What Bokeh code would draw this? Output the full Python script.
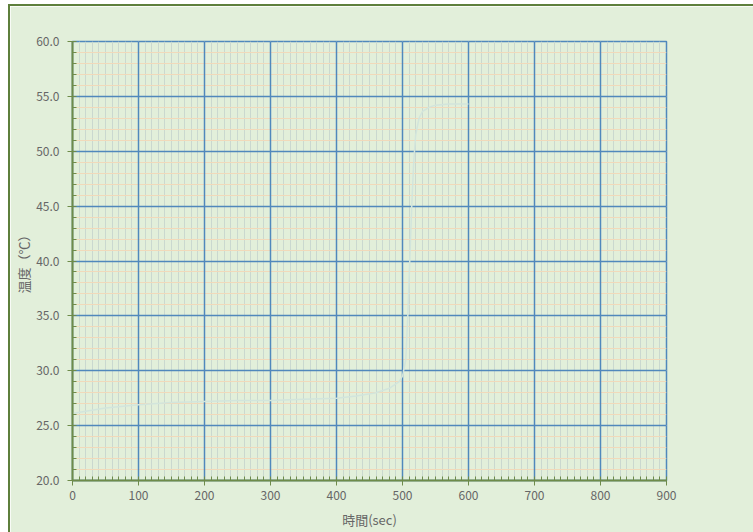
from bokeh.plotting import figure
from bokeh.models import SingleIntervalTicker, NumeralTickFormatter, Range1d, Grid
from bokeh.embed import file_html
from bokeh.resources import INLINE

# Temperature log: elapsed time (sec) and temperature (°C)
time_sec = [0, 20, 50, 100, 150, 200, 250, 300, 350, 400, 430, 460, 480,
            495, 500, 505, 508, 511, 514, 517, 520, 525, 530, 540, 550, 570, 600]
temp_c = [26.1, 26.3, 26.6, 26.9, 27.1, 27.2, 27.3, 27.3, 27.4, 27.5, 27.7,
          28.0, 28.4, 29.0, 29.5, 31.0, 35.0, 40.0, 45.0, 49.0, 51.5, 53.0,
          53.6, 54.0, 54.2, 54.3, 54.3]

x_label = "時間(sec)"
y_label = "温度（℃）"

BG = "#E2EFDA"
AXIS = "#6E8B4A"
TEXT = "#666666"
FONT = "Noto Sans CJK JP"
MAJOR = "#5088BC"

x_ticker = SingleIntervalTicker(interval=100, num_minor_ticks=10)
y_ticker = SingleIntervalTicker(interval=5, num_minor_ticks=5)

p = figure(
    width=743, height=526,
    frame_width=594, frame_height=439,
    min_border_left=62, min_border_right=87,
    min_border_top=35, min_border_bottom=52,
    x_range=Range1d(0, 900), y_range=Range1d(20, 60),
    output_backend="svg", toolbar_location=None,
    background_fill_color=BG, border_fill_color=BG,
)
p.styles = {
    "margin-left": "8px", "margin-top": "4px",
    "border-left": "2px solid #5E7F3C", "border-top": "2px solid #5E7F3C",
}
p.outline_line_color = MAJOR
p.outline_line_width = 1.5

p.xaxis.ticker = x_ticker
p.yaxis.ticker = y_ticker
p.yaxis.formatter = NumeralTickFormatter(format="0.0")

for ax in (p.xaxis[0], p.yaxis[0]):
    ax.axis_line_color = AXIS
    ax.axis_line_width = 2
    ax.major_tick_line_color = AXIS
    ax.minor_tick_line_color = AXIS
    ax.major_tick_out = 5
    ax.major_tick_in = 0
    ax.minor_tick_in = 4
    ax.minor_tick_out = 0
    ax.major_label_text_color = TEXT
    ax.major_label_text_font = FONT
    ax.major_label_text_font_size = "12px"
    ax.axis_label_text_color = TEXT
    ax.axis_label_text_font = FONT
    ax.axis_label_text_font_size = "13px"
    ax.axis_label_text_font_style = "normal"

p.xaxis.axis_label = x_label
p.yaxis.axis_label = y_label
p.xaxis.major_label_standoff = 5
p.yaxis.major_label_standoff = 8
p.xaxis.axis_label_standoff = 7
p.yaxis.axis_label_standoff = 0

# graph-paper grid: fine lines first, bold lines on top
p.xgrid.visible = False
p.ygrid.visible = False
minor_x = Grid(dimension=0, ticker=x_ticker, grid_line_color=None,
               minor_grid_line_color="#CAD8CF", minor_grid_line_width=1,
               level="underlay")
minor_y = Grid(dimension=1, ticker=y_ticker, grid_line_color=None,
               minor_grid_line_color="#F1D9BA", minor_grid_line_width=1,
               level="underlay")
major_x = Grid(dimension=0, ticker=x_ticker, grid_line_color=MAJOR,
               grid_line_width=1.5, level="underlay")
major_y = Grid(dimension=1, ticker=y_ticker, grid_line_color=MAJOR,
               grid_line_width=1.5, level="underlay")
for g in (minor_x, minor_y, major_x, major_y):
    p.add_layout(g)

p.line(time_sec, temp_c, line_color="#D2E5DC", line_width=1.5)

open("out.html", "w").write(file_html(p, INLINE))
